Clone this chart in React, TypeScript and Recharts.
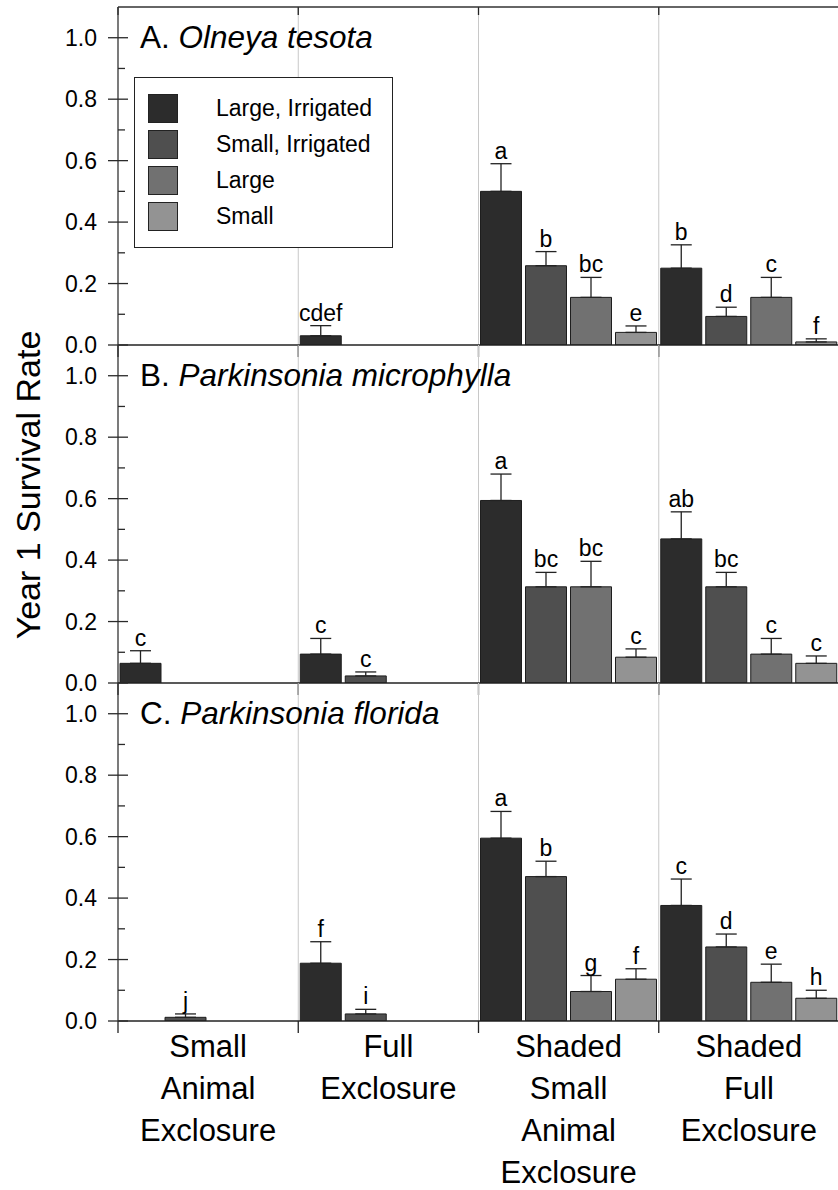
import React from 'react';
import { BarChart, Bar, XAxis, YAxis, ErrorBar, LabelList, ReferenceLine, ReferenceArea, Legend } from 'recharts';

// treatments (x categories) and how their labels break over lines
const categories = ['Small Animal Exclosure', 'Full Exclosure', 'Shaded Small Animal Exclosure', 'Shaded Full Exclosure'];
const categoryLines = [
  ['Small', 'Animal', 'Exclosure'],
  ['Full', 'Exclosure'],
  ['Shaded', 'Small', 'Animal', 'Exclosure'],
  ['Shaded', 'Full', 'Exclosure'],
];
const seriesNames = ['Large, Irrigated', 'Small, Irrigated', 'Large', 'Small'];
const seriesColors = ['#2c2c2c', '#4f4f4f', '#717171', '#939393'];
const yTicks = [0, 0.1, 0.2, 0.3, 0.4, 0.5, 0.6, 0.7, 0.8, 0.9, 1.0];

// A. Olneya tesota  (one row per series, one column per category)
const olneyaMeans = [
  [null, 0.03, 0.5, 0.25],
  [null, null, 0.258, 0.093],
  [null, null, 0.155, 0.155],
  [null, null, 0.041, 0.01],
];
const olneyaErrors = [
  [null, 0.033, 0.09, 0.076],
  [null, null, 0.046, 0.03],
  [null, null, 0.065, 0.065],
  [null, null, 0.021, 0.01],
];
const olneyaLetters = [
  ['', 'cdef', 'a', 'b'],
  ['', '', 'b', 'd'],
  ['', '', 'bc', 'c'],
  ['', '', 'e', 'f'],
];

// B. Parkinsonia microphylla
const microphyllaMeans = [
  [0.064, 0.094, 0.594, 0.469],
  [null, 0.023, 0.313, 0.313],
  [null, null, 0.313, 0.094],
  [null, null, 0.084, 0.064],
];
const microphyllaErrors = [
  [0.041, 0.051, 0.086, 0.088],
  [null, 0.013, 0.047, 0.047],
  [null, null, 0.083, 0.051],
  [null, null, 0.027, 0.024],
];
const microphyllaLetters = [
  ['c', 'c', 'a', 'ab'],
  ['', 'c', 'bc', 'bc'],
  ['', '', 'bc', 'c'],
  ['', '', 'c', 'c'],
];

// C. Parkinsonia florida
const floridaMeans = [
  [null, 0.188, 0.595, 0.376],
  [0.012, 0.023, 0.47, 0.241],
  [null, null, 0.096, 0.126],
  [null, null, 0.136, 0.074],
];
const floridaErrors = [
  [null, 0.07, 0.087, 0.086],
  [0.011, 0.015, 0.05, 0.042],
  [null, null, 0.052, 0.059],
  [null, null, 0.034, 0.026],
];
const floridaLetters = [
  ['', 'f', 'a', 'c'],
  ['j', 'i', 'b', 'd'],
  ['', '', 'g', 'e'],
  ['', '', 'f', 'h'],
];

const FONT = '"Liberation Sans", Arial, Helvetica, sans-serif';
const PLOT_H = 338;
const CHART_W = 839;

const panels = [
  { label: 'A. ', species: 'Olneya tesota', means: olneyaMeans, errors: olneyaErrors, letters: olneyaLetters, top: 7, legend: true, xLabels: false },
  { label: 'B. ', species: 'Parkinsonia microphylla', means: microphyllaMeans, errors: microphyllaErrors, letters: microphyllaLetters, top: 345, legend: false, xLabels: false },
  { label: 'C. ', species: 'Parkinsonia florida', means: floridaMeans, errors: floridaErrors, letters: floridaLetters, top: 683, legend: false, xLabels: true },
];

function buildRows(means: any[][], errors: any[][], letters: string[][]) {
  return categories.map((cat, ci) => {
    const row: any = { cat };
    for (let s = 0; s < 4; s++) {
      const m = means[s][ci];
      const e = errors[s][ci];
      row['m' + s] = m;
      row['e' + s] = m == null ? undefined : [0, e];
      row['l' + s] = letters[s][ci] ? `${letters[s][ci]}|${e}|${m}` : '';
    }
    return row;
  });
}

function LeftTick(props: any) {
  const { x, y, payload } = props;
  const v = payload.value;
  const major = Math.round(v * 10) % 2 === 0;
  return (
    <g>
      <line x1={major ? x - 10 : x} x2={x + (major ? 10 : 7)} y1={y} y2={y} stroke="#2a2a2a" strokeWidth={1.3} />
      {major && (
        <text x={x - 21} y={y} dy="0.36em" textAnchor="end" fontSize={23} fontFamily={FONT} fill="#000">
          {v.toFixed(1)}
        </text>
      )}
    </g>
  );
}

function RightTick(props: any) {
  const { x, y, payload } = props;
  const major = Math.round(payload.value * 10) % 2 === 0;
  return <line x1={x - (major ? 9 : 5)} x2={x} y1={y} y2={y} stroke="#2a2a2a" strokeWidth={1.3} />;
}

function CategoryTick(props: any) {
  const { x, y, payload } = props;
  const lines = categoryLines[categories.indexOf(payload.value)] || [];
  return (
    <text textAnchor="middle" fontSize={31} fontFamily={FONT} fill="#000">
      {lines.map((l, i) => (
        <tspan key={i} x={x} y={y + 36 + i * 42}>{l}</tspan>
      ))}
    </text>
  );
}

// grey separator on the left edge of a treatment band + black boundary ticks
function bandShape(ci: number, topTicks: boolean) {
  return (p: any) => {
    const { x, y, width, height } = p;
    const bottom = y + height;
    const edges = ci === categories.length - 1 ? [x, x + width] : [x];
    return (
      <g>
        {ci > 0 && <line x1={x} x2={x} y1={y} y2={bottom} stroke="#c8c8c8" strokeWidth={1} />}
        {edges.map((ex) => (
          <g key={ex}>
            <line x1={ex} x2={ex} y1={bottom} y2={bottom + 12} stroke="#222" strokeWidth={1.3} />
            {topTicks && <line x1={ex} x2={ex} y1={y} y2={y + 8} stroke="#222" strokeWidth={1.3} />}
          </g>
        ))}
      </g>
    );
  };
}

// letter sits just above the error bar cap
function renderLetter(p: any) {
  if (!p.value) return null;
  const [letter, errS, meanS] = String(p.value).split('|');
  const vb = p.viewBox ?? p;
  const mean = Number(meanS);
  const err = Number(errS);
  if (!letter || !mean) return null;
  const top = Math.min(vb.y, vb.y + vb.height);
  const ppu = Math.abs(vb.height) / mean;
  return (
    <text x={vb.x + vb.width / 2} y={top - err * ppu - 5} textAnchor="middle" fontSize={23} fontFamily={FONT} fill="#000">
      {letter}
    </text>
  );
}

function LegendBox() {
  return (
    <div style={{ width: 259, height: 171, boxSizing: 'border-box', border: '1px solid #222', background: '#fff', position: 'relative', fontFamily: FONT }}>
      {seriesNames.map((n, i) => (
        <div key={n} style={{ position: 'absolute', left: 13, top: 16 + i * 36, height: 29, display: 'flex', alignItems: 'center' }}>
          <div style={{ width: 30, height: 29, boxSizing: 'border-box', background: seriesColors[i], border: '1px solid #222' }} />
          <span style={{ marginLeft: 38, fontSize: 23, lineHeight: '29px', whiteSpace: 'nowrap', color: '#000' }}>{n}</span>
        </div>
      ))}
    </div>
  );
}

function Panel({ cfg }: { cfg: any }) {
  const rows = buildRows(cfg.means, cfg.errors, cfg.letters);
  const marginTop = 5;
  const bottom = cfg.xLabels ? 169 : 15;
  const height = marginTop + PLOT_H + bottom;
  const chartTop = cfg.top - marginTop;
  return (
    <div style={{ position: 'absolute', left: 0, top: chartTop }}>
      <BarChart
        width={CHART_W}
        height={height}
        data={rows}
        margin={{ top: marginTop, right: 0, left: 0, bottom: cfg.xLabels ? 0 : bottom }}
        barGap={4}
        barCategoryGap={0}
      >
        <XAxis xAxisId="c" dataKey="cat" hide={!cfg.xLabels} height={169} interval={0} axisLine={false} tickLine={false} tickSize={0} tickMargin={0} tick={<CategoryTick />} />
        <YAxis yAxisId="l" type="number" width={118} domain={[0, 1.1]} ticks={yTicks} interval={0} allowDataOverflow tick={<LeftTick />} tickLine={false} tickSize={0} tickMargin={0} axisLine={{ stroke: '#333', strokeWidth: 1.3 }} />
        <YAxis yAxisId="r" orientation="right" type="number" width={0} domain={[0, 1.1]} ticks={yTicks} interval={0} allowDataOverflow tick={<RightTick />} tickLine={false} tickSize={0} tickMargin={0} axisLine={{ stroke: '#333', strokeWidth: 1.3 }} />
        {categories.map((cat, ci) => (
          <ReferenceArea key={'band' + ci} xAxisId="c" yAxisId="l" x1={cat} x2={cat} ifOverflow="visible" shape={bandShape(ci, cfg.legend)} />
        ))}
        {seriesNames.map((name, s) => (
          <Bar
            key={name}
            name={name}
            xAxisId="c"
            yAxisId="l"
            dataKey={'m' + s}
            fill={seriesColors[s]}
            stroke="#1e1e1e"
            strokeWidth={1}
            barSize={41}
            isAnimationActive={false}
          >
            <ErrorBar dataKey={'e' + s} width={10.5} stroke="#222" strokeWidth={1.3} direction="y" isAnimationActive={false} />
            <LabelList dataKey={'l' + s} content={renderLetter} />
          </Bar>
        ))}
        <ReferenceLine xAxisId="c" yAxisId="l" y={0} stroke="#222" strokeWidth={1.6} />
        {cfg.legend && <ReferenceLine xAxisId="c" yAxisId="l" y={1.1} stroke="#333" strokeWidth={1.3} />}
        {cfg.legend && (
          <Legend
            layout="vertical"
            align="center"
            verticalAlign="middle"
            content={<LegendBox />}
            wrapperStyle={{ left: 134, top: 77 - chartTop, width: 259, height: 171 }}
          />
        )}
      </BarChart>
    </div>
  );
}

export default function App() {
  return (
    <div style={{ position: 'absolute', left: 0, top: 0, width: 838, height: 1190, overflow: 'hidden', background: '#fff' }}>
      {panels.map((p) => (
        <Panel key={p.species} cfg={p} />
      ))}
      <svg width={838} height={1190} style={{ position: 'absolute', left: 0, top: 0, pointerEvents: 'none' }}>
        {panels.map((p) => (
          <text key={p.species} x={140} y={p.top + 41} fontSize={31.5} fontFamily={FONT} fill="#000">
            <tspan>{p.label}</tspan>
            <tspan fontStyle="italic">{p.species}</tspan>
          </text>
        ))}
        <text x={40} y={485} transform="rotate(-90 40 485)" textAnchor="middle" fontSize={34} fontFamily={FONT} fill="#000">
          Year 1 Survival Rate
        </text>
      </svg>
    </div>
  );
}
